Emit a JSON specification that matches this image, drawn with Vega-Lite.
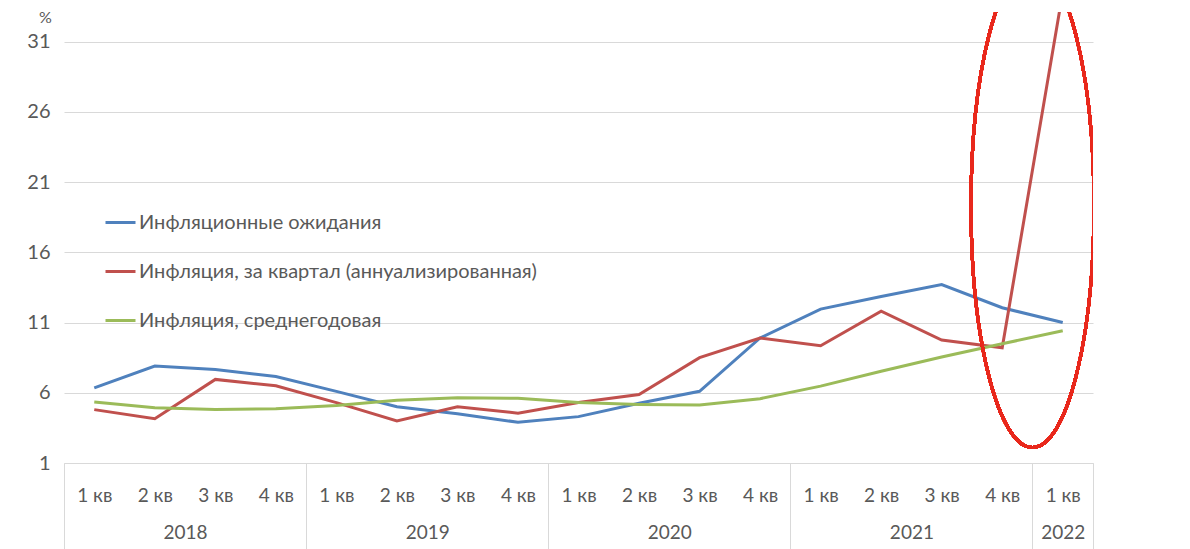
{
  "$schema": "https://vega.github.io/schema/vega-lite/v6.json",
  "width": 1029,
  "height": 451,
  "autosize": {"type": "none"},
  "padding": {"left": 64, "top": 12, "right": 97, "bottom": 86},
  "background": "white",
  "config": {
    "view": {"stroke": null},
    "font": "Lato, Noto Sans, sans-serif",
    "axis": {"labelFont": "Lato, Noto Sans, sans-serif", "labelColor": "#595959", "labelFontSize": 19}
  },
  "datasets": {
    "series": [
      {"n": 1, "series": "Инфляционные ожидания", "value": 6.35},
      {"n": 2, "series": "Инфляционные ожидания", "value": 7.9},
      {"n": 3, "series": "Инфляционные ожидания", "value": 7.65},
      {"n": 4, "series": "Инфляционные ожидания", "value": 7.15},
      {"n": 5, "series": "Инфляционные ожидания", "value": 6.1},
      {"n": 6, "series": "Инфляционные ожидания", "value": 5.0},
      {"n": 7, "series": "Инфляционные ожидания", "value": 4.5},
      {"n": 8, "series": "Инфляционные ожидания", "value": 3.9},
      {"n": 9, "series": "Инфляционные ожидания", "value": 4.3},
      {"n": 10, "series": "Инфляционные ожидания", "value": 5.25},
      {"n": 11, "series": "Инфляционные ожидания", "value": 6.1},
      {"n": 12, "series": "Инфляционные ожидания", "value": 9.9},
      {"n": 13, "series": "Инфляционные ожидания", "value": 11.95},
      {"n": 14, "series": "Инфляционные ожидания", "value": 12.85},
      {"n": 15, "series": "Инфляционные ожидания", "value": 13.7},
      {"n": 16, "series": "Инфляционные ожидания", "value": 12.05},
      {"n": 17, "series": "Инфляционные ожидания", "value": 11.0},
      {"n": 1, "series": "Инфляция, за квартал (аннуализированная)", "value": 4.8},
      {"n": 2, "series": "Инфляция, за квартал (аннуализированная)", "value": 4.15},
      {"n": 3, "series": "Инфляция, за квартал (аннуализированная)", "value": 6.95},
      {"n": 4, "series": "Инфляция, за квартал (аннуализированная)", "value": 6.5},
      {"n": 5, "series": "Инфляция, за квартал (аннуализированная)", "value": 5.3},
      {"n": 6, "series": "Инфляция, за квартал (аннуализированная)", "value": 4.0},
      {"n": 7, "series": "Инфляция, за квартал (аннуализированная)", "value": 5.0},
      {"n": 8, "series": "Инфляция, за квартал (аннуализированная)", "value": 4.55},
      {"n": 9, "series": "Инфляция, за квартал (аннуализированная)", "value": 5.3},
      {"n": 10, "series": "Инфляция, за квартал (аннуализированная)", "value": 5.88},
      {"n": 11, "series": "Инфляция, за квартал (аннуализированная)", "value": 8.5},
      {"n": 12, "series": "Инфляция, за квартал (аннуализированная)", "value": 9.9},
      {"n": 13, "series": "Инфляция, за квартал (аннуализированная)", "value": 9.35},
      {"n": 14, "series": "Инфляция, за квартал (аннуализированная)", "value": 11.8},
      {"n": 15, "series": "Инфляция, за квартал (аннуализированная)", "value": 9.75},
      {"n": 16, "series": "Инфляция, за квартал (аннуализированная)", "value": 9.2},
      {"n": 17, "series": "Инфляция, за квартал (аннуализированная)", "value": 34.5},
      {"n": 1, "series": "Инфляция, среднегодовая", "value": 5.35},
      {"n": 2, "series": "Инфляция, среднегодовая", "value": 4.93},
      {"n": 3, "series": "Инфляция, среднегодовая", "value": 4.8},
      {"n": 4, "series": "Инфляция, среднегодовая", "value": 4.87},
      {"n": 5, "series": "Инфляция, среднегодовая", "value": 5.1},
      {"n": 6, "series": "Инфляция, среднегодовая", "value": 5.47},
      {"n": 7, "series": "Инфляция, среднегодовая", "value": 5.64},
      {"n": 8, "series": "Инфляция, среднегодовая", "value": 5.6},
      {"n": 9, "series": "Инфляция, среднегодовая", "value": 5.3},
      {"n": 10, "series": "Инфляция, среднегодовая", "value": 5.17},
      {"n": 11, "series": "Инфляция, среднегодовая", "value": 5.13},
      {"n": 12, "series": "Инфляция, среднегодовая", "value": 5.58},
      {"n": 13, "series": "Инфляция, среднегодовая", "value": 6.47},
      {"n": 14, "series": "Инфляция, среднегодовая", "value": 7.53},
      {"n": 15, "series": "Инфляция, среднегодовая", "value": 8.55},
      {"n": 16, "series": "Инфляция, среднегодовая", "value": 9.49},
      {"n": 17, "series": "Инфляция, среднегодовая", "value": 10.41}
    ]
  },
  "data": {"name": "series"},
  "layer": [
    {
      "mark": {"type": "line", "strokeWidth": 3, "clip": true},
      "encoding": {
        "x": {
          "field": "n", "type": "quantitative",
          "scale": {"domain": [0.5, 17.5], "nice": false, "zero": false},
          "axis": {
            "orient": "bottom",
            "values": [1, 2, 3, 4, 5, 6, 7, 8, 9, 10, 11, 12, 13, 14, 15, 16, 17],
            "labelExpr": "((datum.value - 1) % 4 + 1) + ' кв'",
            "ticks": false, "domain": true, "domainColor": "#d9d9d9", "domainWidth": 1,
            "grid": false, "labelPadding": 32, "labelBaseline": "middle",
            "labelFlush": false, "labelOverlap": false, "title": null
          }
        },
        "y": {
          "field": "value", "type": "quantitative",
          "scale": {"domain": [1, 33.1], "nice": false, "zero": false},
          "axis": {
            "values": [1, 6, 11, 16, 21, 26, 31],
            "grid": true, "gridColor": "#d9d9d9", "gridWidth": 1,
            "domain": false, "ticks": false, "labelPadding": 14, "labelFontSize": 20,
            "title": "%", "titleAngle": 0, "titleX": -19, "titleY": 5,
            "titleAlign": "center", "titleBaseline": "middle",
            "titleFontSize": 16, "titleFontWeight": "normal", "titleColor": "#595959",
            "titleFont": "Lato, Noto Sans, sans-serif"
          }
        },
        "color": {
          "field": "series", "type": "nominal",
          "scale": {
            "domain": ["Инфляционные ожидания", "Инфляция, за квартал (аннуализированная)", "Инфляция, среднегодовая"],
            "range": ["#4f81bd", "#c0504d", "#9bbb59"]
          },
          "legend": {
            "orient": "none", "legendX": 40, "legendY": 194, "title": null,
            "symbolType": "stroke", "symbolSize": 900, "symbolStrokeWidth": 3,
            "labelFontSize": 20, "labelColor": "#595959", "labelFont": "Lato, Noto Sans, sans-serif",
            "labelLimit": 600, "rowPadding": 22, "labelOffset": 2
          }
        }
      }
    },
    {
      "mark": {"type": "rule", "opacity": 0},
      "encoding": {
        "x": {
          "field": "n", "type": "quantitative",
          "scale": {"domain": [0.5, 17.5], "nice": false, "zero": false},
          "axis": {
            "orient": "bottom", "values": [0.5, 4.5, 8.5, 12.5, 16.5, 17.5],
            "labels": false, "domain": false, "grid": false,
            "ticks": true, "tickSize": 86, "tickColor": "#d9d9d9", "tickWidth": 1, "title": null
          }
        }
      }
    },
    {
      "mark": {"type": "rule", "opacity": 0},
      "encoding": {
        "x": {
          "field": "n", "type": "quantitative",
          "scale": {"domain": [0.5, 17.5], "nice": false, "zero": false},
          "axis": {
            "orient": "bottom", "values": [2.5, 6.5, 10.5, 14.5, 17],
            "labelExpr": "datum.value == 17 ? '2022' : '' + (2018 + floor(datum.value / 4))",
            "ticks": false, "domain": false, "grid": false,
            "labelPadding": 69, "labelBaseline": "middle",
            "labelFlush": false, "labelOverlap": false, "title": null
          }
        }
      }
    },
    {
      "mark": {
        "type": "point",
        "shape": "M -0.2545 0 A 0.2545 1 0 1 0 0.2545 0 A 0.2545 1 0 1 0 -0.2545 0 Z",
        "size": 233500, "filled": false, "stroke": "#e8281c", "strokeWidth": 3,
        "opacity": 1, "clip": true
      },
      "encoding": {
        "x": {"datum": 16.5, "type": "quantitative", "scale": {"domain": [0.5, 17.5], "nice": false, "zero": false}, "axis": null},
        "y": {"datum": 19.3, "type": "quantitative", "scale": {"domain": [1, 33.1], "nice": false, "zero": false}, "axis": null}
      }
    }
  ],
  "resolve": {"axis": {"x": "independent", "y": "independent"}}
}
